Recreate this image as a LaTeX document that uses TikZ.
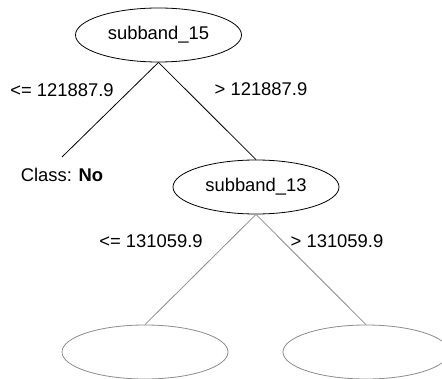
\documentclass[tikz,border=0pt]{standalone}
\usepackage{fontspec}
\setmainfont{Liberation Sans}
\usetikzlibrary{shapes.geometric}
\definecolor{dimgray}{RGB}{140,140,140}
\begin{document}
\begin{tikzpicture}[x=1pt,y=-1pt,
  every node/.style={font=\fontsize{18.4}{20}\selectfont, inner sep=0pt},
  split/.style={draw, ellipse, minimum width=166pt, minimum height=54pt, line width=0.8pt},
  faded/.style={split, draw=dimgray},
  edge/.style={line width=0.8pt},
  fadededge/.style={line width=0.8pt, draw=dimgray},
  lbl/.style={anchor=center}]
\useasboundingbox (0,0) rectangle (442,379);
\clip (0,0) rectangle (442,379);
% root split
\node[split] (s15) at (158.5,35) {subband\_15};
\node[lbl] (leaf) at (62,175) {Class: \textbf{No}};
\coordinate (leaftop) at (62,157);
\node[split] (s13) at (256,187) {subband\_13};
% subtrees below subband_13
\node[faded] (bl) at (145,352) {};
\node[faded] (br) at (366,352) {};
% connectors
\draw[edge] (s15.south) -- (leaftop);
\draw[edge] (s15.south) -- (s13.north);
\draw[fadededge] (s13.south) -- (bl.north);
\draw[fadededge] (s13.south) -- (br.north);
% branch conditions
\node[lbl] (c1) at (62,90) {<= 121887.9};
\node[lbl] (c2) at (261,89) {> 121887.9};
\node[lbl] (c3) at (151,241) {<= 131059.9};
\node[lbl] (c4) at (337,241) {> 131059.9};
\end{tikzpicture}
\end{document}
